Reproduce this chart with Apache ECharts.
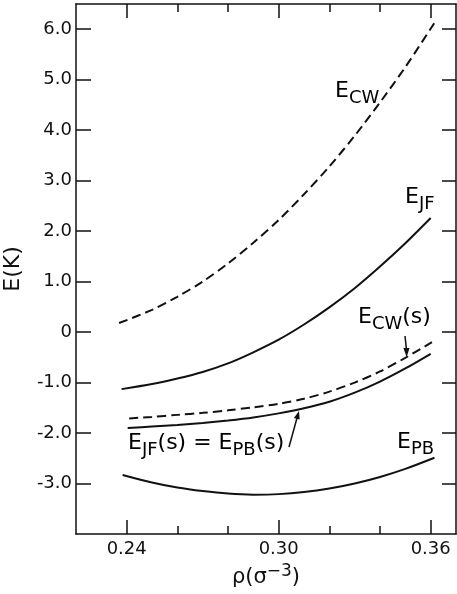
<!DOCTYPE html>
<html><head><meta charset="utf-8">
<script src="https://cdn.jsdelivr.net/npm/echarts@6/dist/echarts.min.js"></script>
<style>html,body{margin:0;padding:0;background:#fff}#c{width:457px;height:594px}</style>
</head><body><div id="c"></div>
<script>
// tick values
const xMajorTicks = [0.24, 0.30, 0.36];
const xMinorTicks = [0.26, 0.28, 0.32, 0.34];
const yTicks = [-3, -2, -1, 0, 1, 2, 3, 4, 5, 6];

// E_CW (dashed)
const rhoCW = [0.237, 0.25, 0.26, 0.27, 0.28, 0.29, 0.30, 0.31, 0.32, 0.33, 0.34, 0.35, 0.3614];
const eCW   = [0.18, 0.44, 0.70, 1.00, 1.36, 1.77, 2.22, 2.73, 3.28, 3.89, 4.55, 5.25, 6.12];
// E_JF (solid)
const rhoJF = [0.238, 0.25, 0.26, 0.27, 0.28, 0.29, 0.30, 0.31, 0.32, 0.33, 0.34, 0.35, 0.36];
const eJF   = [-1.13, -1.03, -0.92, -0.79, -0.62, -0.40, -0.15, 0.15, 0.49, 0.87, 1.30, 1.76, 2.26];
// E_CW(s) (dashed)
const rhoCWs = [0.241, 0.25, 0.26, 0.27, 0.28, 0.29, 0.30, 0.31, 0.32, 0.33, 0.34, 0.35, 0.3605];
const eCWs   = [-1.71, -1.68, -1.64, -1.60, -1.55, -1.49, -1.42, -1.32, -1.18, -1.00, -0.78, -0.51, -0.20];
// E_JF(s) = E_PB(s) (solid)
const rhoJFs = [0.2404, 0.25, 0.26, 0.27, 0.28, 0.29, 0.30, 0.31, 0.32, 0.33, 0.34, 0.35, 0.36];
const eJFs   = [-1.90, -1.87, -1.84, -1.80, -1.75, -1.69, -1.61, -1.51, -1.38, -1.20, -0.98, -0.72, -0.43];
// E_PB (solid)
const rhoPB = [0.2384, 0.25, 0.26, 0.27, 0.28, 0.29, 0.30, 0.31, 0.32, 0.33, 0.34, 0.35, 0.3615];
const ePB   = [-2.83, -2.98, -3.08, -3.15, -3.20, -3.22, -3.21, -3.17, -3.10, -3.00, -2.87, -2.71, -2.49];

const FONT = 'DejaVu Sans';
const INK = '#111';
const pairs = (xs, ys) => xs.map((x, i) => [x, ys[i]]);

const chart = echarts.init(document.getElementById('c'), null, {renderer: 'canvas'});

function xAxisDef(position, ticks, len, showLine, showLabel, extra) {
  return Object.assign({
    type: 'value', min: 0.22, max: 0.37, position: position,
    axisLine: {show: showLine, onZero: false, lineStyle: {color: INK, width: 1.5}},
    axisTick: {show: true, inside: true, length: len, customValues: ticks, lineStyle: {color: INK, width: 1.5}},
    axisLabel: {show: showLabel, customValues: ticks, formatter: v => v.toFixed(2), fontFamily: FONT, fontSize: 18, color: INK, margin: 6},
    splitLine: {show: false}
  }, extra || {});
}

const subRich = {
  e: {fontFamily: FONT, fontSize: 22, color: INK, lineHeight: 30},
  s: {fontFamily: FONT, fontSize: 18, color: INK, padding: [14, 0, 0, 0], lineHeight: 18},
  p: {fontFamily: FONT, fontSize: 22, color: INK, lineHeight: 30}
};

function label(x, y, text) {
  return {type: 'text', x: x, y: y, style: {text: text, rich: subRich, verticalAlign: 'top', align: 'left'}};
}

chart.setOption({
  backgroundColor: '#fff',
  animation: false,
  grid: {left: 76, right: 1, top: 4, bottom: 60, containLabel: false, outerBoundsMode: 'none'},
  xAxis: [
    xAxisDef('bottom', xMajorTicks, 14, true, true, {
      name: '{a|ρ(σ}{u|−3}{a|)}', nameLocation: 'middle', nameGap: 24,
      nameTextStyle: {rich: {
        a: {fontFamily: FONT, fontSize: 21, color: INK},
        u: {fontFamily: FONT, fontSize: 17, color: INK, padding: [0, 0, 12, 0]}
      }}
    }),
    xAxisDef('bottom', xMinorTicks, 8, false, false),
    xAxisDef('top', xMajorTicks, 14, true, false),
    xAxisDef('top', xMinorTicks, 8, false, false)
  ],
  yAxis: [
    {
      type: 'value', min: -4, max: 6.5, position: 'left',
      axisLine: {show: true, onZero: false, lineStyle: {color: INK, width: 1.5}},
      axisTick: {inside: true, length: 15, customValues: yTicks, lineStyle: {color: INK, width: 1.5}},
      axisLabel: {customValues: yTicks, formatter: v => v === 0 ? '0' : v.toFixed(1), fontFamily: FONT, fontSize: 18, color: INK, margin: 4},
      splitLine: {show: false},
      name: 'E(K)', nameLocation: 'middle', nameGap: 52, nameRotate: 90,
      nameTextStyle: {fontFamily: FONT, fontSize: 22, color: INK}
    },
    {
      type: 'value', min: -4, max: 6.5, position: 'right',
      axisLine: {show: true, onZero: false, lineStyle: {color: INK, width: 1.5}},
      axisTick: {inside: true, length: 14, customValues: yTicks, lineStyle: {color: INK, width: 1.5}},
      axisLabel: {show: false}, splitLine: {show: false}
    }
  ],
  series: [
    {name: 'E_CW', type: 'line', data: pairs(rhoCW, eCW), smooth: 0.3, showSymbol: false,
     lineStyle: {color: INK, width: 2, type: [9, 5]}},
    {name: 'E_JF', type: 'line', data: pairs(rhoJF, eJF), smooth: 0.3, showSymbol: false,
     lineStyle: {color: INK, width: 2}},
    {name: 'E_CW(s)', type: 'line', data: pairs(rhoCWs, eCWs), smooth: 0.3, showSymbol: false,
     lineStyle: {color: INK, width: 2, type: [9, 5]}},
    {name: 'E_JF(s)', type: 'line', data: pairs(rhoJFs, eJFs), smooth: 0.3, showSymbol: false,
     lineStyle: {color: INK, width: 2}},
    {name: 'E_PB', type: 'line', data: pairs(rhoPB, ePB), smooth: 0.3, showSymbol: false,
     lineStyle: {color: INK, width: 2}}
  ],
  graphic: [
    label(335, 76, '{e|E}{s|CW}'),
    label(405, 182, '{e|E}{s|JF}'),
    label(358, 302, '{e|E}{s|CW}{p|(s)}'),
    label(128, 428, '{e|E}{s|JF}{p|(s) = E}{s|PB}{p|(s)}'),
    label(397, 427, '{e|E}{s|PB}'),
    // arrows
    {type: 'line', shape: {x1: 405, y1: 336, x2: 406.5, y2: 350}, style: {stroke: INK, lineWidth: 1.5}},
    {type: 'polygon', shape: {points: [[406.6, 357], [403.4, 348], [409.6, 348]]}, style: {fill: INK}},
    {type: 'line', shape: {x1: 289, y1: 447, x2: 297, y2: 418}, style: {stroke: INK, lineWidth: 1.5}},
    {type: 'polygon', shape: {points: [[299, 411], [299.7, 419.5], [293.9, 417.9]]}, style: {fill: INK}}
  ]
});
</script></body></html>
